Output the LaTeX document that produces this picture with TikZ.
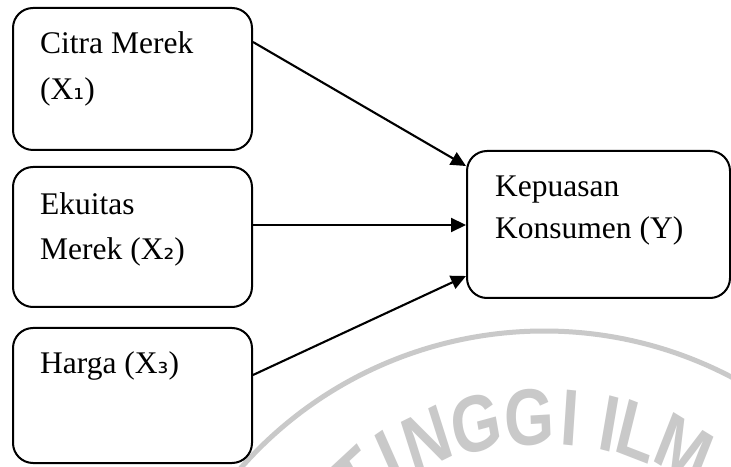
\documentclass[tikz,border=0pt]{standalone}
\usepackage{fontspec}
\setmainfont{Liberation Serif}
\newfontfamily\dvsub{DejaVu Sans}
\newfontfamily\wmfont{Liberation Sans}
\usetikzlibrary{arrows.meta}
\newcommand{\sbx}[1]{{\dvsub\fontsize{27}{27}\selectfont #1}}
\tikzset{
  box/.style={draw=black, line width=2pt, rounded corners=20pt, fill=white, inner sep=0pt},
  lbl/.style={anchor=base west, inner sep=0pt, font=\fontsize{31.5}{31.5}\selectfont},
  conn/.style={line width=2.1pt, -{Triangle[length=15pt,width=14pt]}},
  wmk/.style={text=black!21, inner sep=0pt, xscale=0.8, font=\wmfont\bfseries\fontsize{80}{80}\selectfont}
}
\begin{document}
\begin{tikzpicture}[x=1pt,y=1pt]
\useasboundingbox (0,0) rectangle (731,466);
\fill[white] (0,0) rectangle (731,466);
% watermark
\begin{scope}
\clip (0,0) rectangle (731,466);
\draw[black!21, line width=5pt] ([shift={(140:404)}]544,-269) arc[start angle=140, end angle=55, radius=404];
\foreach \l/\p [count=\i] in {T/126.5, I/119.0, N/111.6, G/102.3, G/92.6, I/85.3, I/78.0, L/72.8, M/63.8}
  \node[wmk, rotate={\p-90}] (w\i) at ([shift={(\p:318)}]544,-269) {\l};
\end{scope}
% boxes
\node[box, minimum width=239pt, minimum height=142pt] (b1) at (132.5,387) {};
\node[box, minimum width=239pt, minimum height=140pt] (b2) at (132.5,229) {};
\node[box, minimum width=239pt, minimum height=135pt] (b3) at (132.5,70.5) {};
\node[box, minimum width=263pt, minimum height=147pt] (by) at (598.5,241.5) {};
% labels
\node[lbl] (t1a) at (40,412) {Citra Merek};
\node[lbl] (t1b) at (40,366) {(X\sbx{₁})};
\node[lbl] (t2a) at (40,251) {Ekuitas};
\node[lbl] (t2b) at (40,206) {Merek (X\sbx{₂})};
\node[lbl] (t3a) at (40,92) {Harga (X\sbx{₃})};
\node[lbl] (tya) at (495,269) {Kepuasan};
\node[lbl] (tyb) at (495,227) {Konsumen (Y)};
% connectors
\draw[conn] ([yshift=37pt]b1.east) -- ([yshift=58.5pt]by.west);
\draw[conn] ([yshift=12pt]b2.east) -- ([yshift=-0.5pt]by.west);
\draw[conn] ([yshift=20.5pt]b3.east) -- ([yshift=-51.5pt]by.west);
\end{tikzpicture}
\end{document}
